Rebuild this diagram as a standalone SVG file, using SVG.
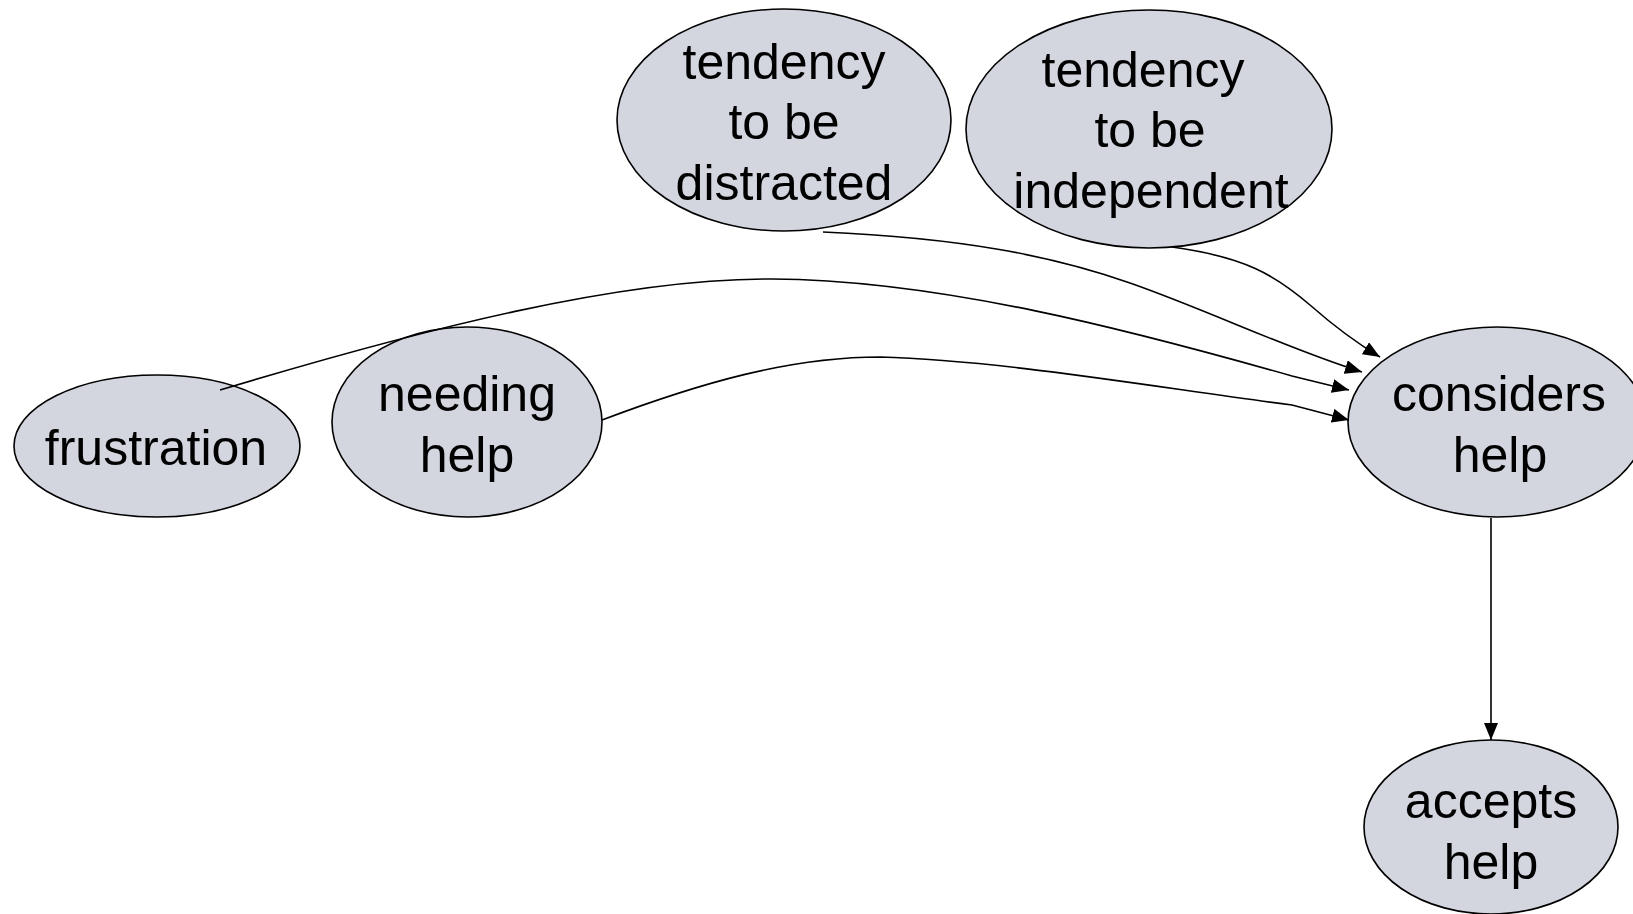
<svg xmlns="http://www.w3.org/2000/svg" width="1633" height="914" viewBox="0 0 1633 914">
  <defs>
    <style>
      .node ellipse { fill: #d3d6df; stroke: #000; stroke-width: 1.6; }
      .node text { font-family: "Liberation Sans", Arial, sans-serif; font-size: 50px; fill: #000; text-anchor: middle; }
      .edge { fill: none; stroke: #000; stroke-width: 1.6; marker-end: url(#arrow); }
    </style>
    <marker id="arrow" markerUnits="userSpaceOnUse" markerWidth="18" markerHeight="14" refX="17" refY="7" orient="auto">
      <path d="M0,0 L17,7 L0,14 z" fill="#000"/>
    </marker>
  </defs>
  <rect width="1633" height="914" fill="#fff"/>

  <g id="node-distracted" class="node">
    <ellipse cx="784" cy="120" rx="167" ry="111"/>
    <text x="784" y="79">tendency</text>
    <text x="784" y="139">to be</text>
    <text x="784" y="200">distracted</text>
  </g>

  <g id="node-independent" class="node">
    <ellipse cx="1149" cy="129" rx="183" ry="119"/>
    <text x="1143" y="87">tendency</text>
    <text x="1150" y="147">to be</text>
    <text x="1151" y="208">independent</text>
  </g>

  <g id="node-frustration" class="node">
    <ellipse cx="157" cy="446" rx="143" ry="71"/>
    <text x="156" y="465">frustration</text>
  </g>

  <g id="node-needing-help" class="node">
    <ellipse cx="467" cy="422" rx="135" ry="95"/>
    <text x="467" y="411">needing</text>
    <text x="467" y="472">help</text>
  </g>

  <g id="node-considers-help" class="node">
    <ellipse cx="1497" cy="422" rx="149" ry="95"/>
    <text x="1499" y="411">considers</text>
    <text x="1500" y="472">help</text>
  </g>

  <g id="node-accepts-help" class="node">
    <ellipse cx="1491" cy="827" rx="127" ry="87"/>
    <text x="1491" y="818">accepts</text>
    <text x="1491" y="879">help</text>
  </g>

  <g id="connectors">
    <path class="edge" d="M1172,247 C1245,257 1275,275 1310,305 C1335,327 1360,345 1380,357"/>
    <path class="edge" d="M823,232 C960,238 1050,255 1130,283 C1210,311 1290,350 1362,372"/>
    <path class="edge" d="M220,390 C420,330 620,278 772,279 C940,280 1130,330 1292,376 L1349,390"/>
    <path class="edge" d="M602,420 C700,383 790,357 880,357 C1000,360 1160,388 1292,405 L1349,420"/>
    <path class="edge" d="M1491,518 L1491,740"/>
  </g>
</svg>
